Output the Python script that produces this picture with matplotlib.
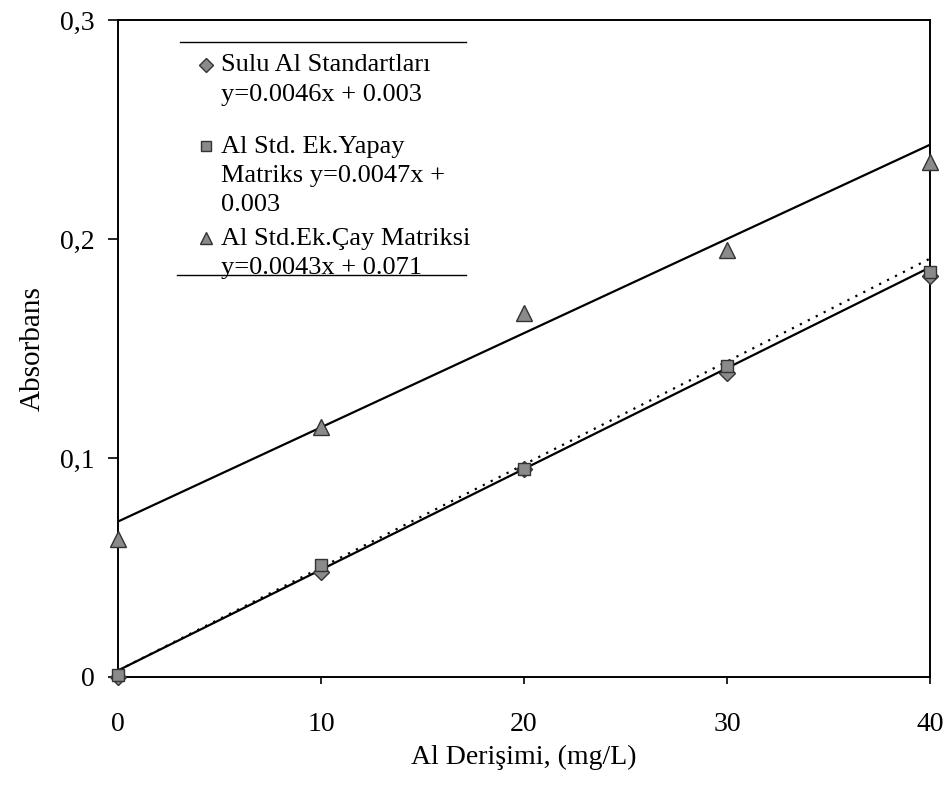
import matplotlib
matplotlib.use("Agg")
import matplotlib.pyplot as plt
import numpy as np

plt.rcParams['font.family'] = ['Liberation Serif', 'DejaVu Serif']

# concentrations (mg/L)
conc = [0, 10, 20, 30, 40]

# absorbance readings
sulu = [0.000, 0.048, 0.095, 0.139, 0.183]
yapay = [0.001, 0.051, 0.095, 0.142, 0.185]
cay = [0.063, 0.114, 0.166, 0.195, 0.235]

# trendline coefficients (slope, intercept)
sulu_fit = (0.0046, 0.003)
yapay_fit = (0.0047, 0.003)
cay_fit = (0.0043, 0.071)

labels = ['Sulu Al Standartları\ny=0.0046x + 0.003',
          'Al Std. Ek.Yapay\nMatriks y=0.0047x +\n0.003',
          'Al Std.Ek.Çay Matriksi\ny=0.0043x + 0.071']
markers = ['D', 's', '^']

yticks = [0, 0.1, 0.2, 0.3]
ytick_labels = ['0', '0,1', '0,2', '0,3']
xticks = [0, 10, 20, 30, 40]

fig = plt.figure(figsize=(9.45, 7.85), dpi=100)
ax = fig.add_axes([0.125, 0.1376, 0.859, 0.837])

xl = np.array([0, 40])
ax.plot(xl, sulu_fit[0]*xl + sulu_fit[1], color='k', lw=1.6)
ax.plot(xl, yapay_fit[0]*xl + yapay_fit[1], color='k', lw=1.6, ls=(0, (1, 3)))
ax.plot(xl, cay_fit[0]*xl + cay_fit[1], color='k', lw=1.6)

mk = dict(ls='none', markerfacecolor='#8a8a8a', markeredgecolor='#333333',
          markeredgewidth=1.0, zorder=5)
msize = {'D': 8, 's': 9, '^': 11}
for ys, m in zip([sulu, yapay, cay], markers):
    ax.plot(conc, ys, marker=m, markersize=msize[m], clip_on=False, **mk)

ax.set_xlim(0, 40)
ax.set_ylim(0, 0.3)
ax.set_yticks(yticks)
ax.set_yticklabels(ytick_labels)
ax.set_xticks(xticks)
ax.tick_params(axis='y', direction='out', length=7, width=1.2, pad=10, labelsize=20)
ax.tick_params(axis='x', direction='out', length=5, width=1.2, pad=20, labelsize=20)
for s in ax.spines.values():
    s.set_linewidth(1.4)

ax.set_xlabel('Al Derişimi, (mg/L)', fontsize=20, labelpad=6)
ax.set_ylabel('Absorbans', fontsize=21, labelpad=10)

# legend drawn by hand: marker beside the first line of each entry
entry_y = [0.9315, 0.808, 0.668]
for lab, m, yy in zip(labels, markers, entry_y):
    ax.plot([0.108], [yy], transform=ax.transAxes, marker=m,
            markersize=msize[m] * 0.85, **mk)
    ax.text(0.127, yy + 0.016, lab, transform=ax.transAxes, fontsize=19,
            va='top', ha='left', linespacing=1.42)

# top and bottom rules of the legend box
ax.plot([0.076, 0.428], [0.966, 0.966], transform=ax.transAxes, color='k', lw=1.0)
ax.plot([0.073, 0.428], [0.612, 0.612], transform=ax.transAxes, color='k', lw=1.0)

fig.savefig('out.png', dpi=100)
